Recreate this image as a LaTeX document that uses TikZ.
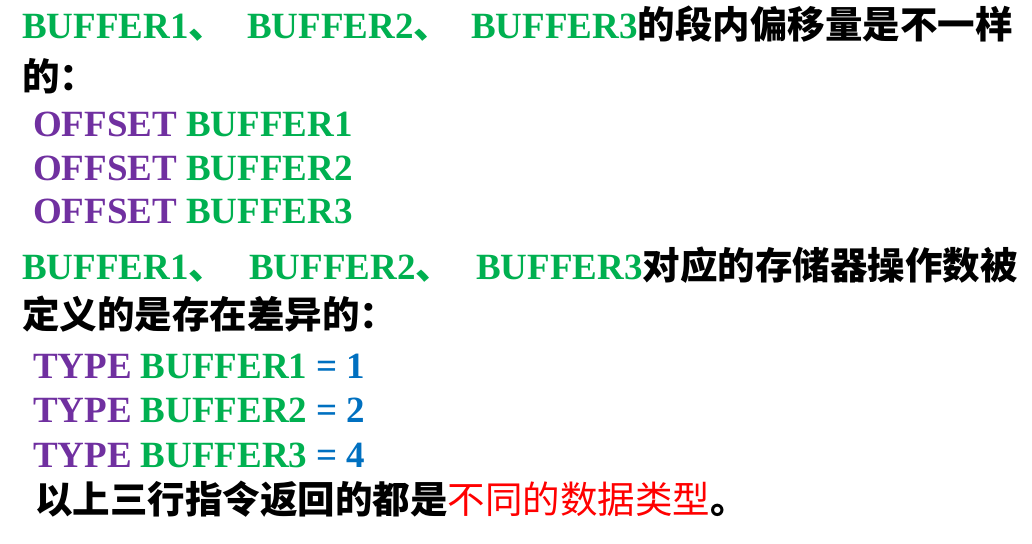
\documentclass[tikz,border=0pt]{standalone}
\usepackage{fontspec}
\setmainfont{Liberation Serif}
\newfontfamily\cjk{Noto Sans CJK SC}
\definecolor{cgreen}{HTML}{00B050}
\definecolor{cpurple}{HTML}{7030A0}
\definecolor{cblue}{HTML}{0070C0}
\definecolor{cred}{HTML}{FF0000}
\newcommand{\lat}{\fontsize{37}{40}\selectfont\bfseries}
\newcommand{\zh}{\fontsize{37.5}{40}\selectfont\cjk\bfseries}
\newcommand{\zhr}{\fontsize{37.5}{40}\selectfont\cjk\mdseries}
\begin{document}
\begin{tikzpicture}[x=1pt,y=-1pt,
  txt/.style={anchor=base west,inner sep=0pt,outer sep=0pt}]
\useasboundingbox (0,0) rectangle (1032,543);
% line 1
\node[txt] (l1a) at (22,39) {\lat\color{cgreen}BUFFER1{\zh 、}};
\node[txt] (l1b) at (247,39) {\lat\color{cgreen}BUFFER2{\zh 、}};
\node[txt] (l1c) at (471,39) {\lat{\color{cgreen}BUFFER3}{\zh 的段内偏移量是不一样}};
% line 2
\node[txt] (l2) at (22,90) {\zh 的：};
% offset lines
\node[txt] (o1) at (33,136) {\lat{\color{cpurple}OFFSET} {\color{cgreen}BUFFER1}};
\node[txt] (o2) at (33,180) {\lat{\color{cpurple}OFFSET} {\color{cgreen}BUFFER2}};
\node[txt] (o3) at (33,223) {\lat{\color{cpurple}OFFSET} {\color{cgreen}BUFFER3}};
% line 4
\node[txt] (l4a) at (22,279) {\lat\color{cgreen}BUFFER1{\zh 、}};
\node[txt] (l4b) at (249,279) {\lat\color{cgreen}BUFFER2{\zh 、}};
\node[txt] (l4c) at (476,279) {\lat{\color{cgreen}BUFFER3}{\zh 对应的存储器操作数被}};
% line 5
\node[txt] (l5) at (22,328) {\zh 定义的是存在差异的：};
% type lines
\node[txt] (t1) at (33,378) {\lat{\color{cpurple}TYPE} {\color{cgreen}BUFFER1} {\color{cblue}= 1}};
\node[txt] (t2) at (33,422) {\lat{\color{cpurple}TYPE} {\color{cgreen}BUFFER2} {\color{cblue}= 2}};
\node[txt] (t3) at (33,467) {\lat{\color{cpurple}TYPE} {\color{cgreen}BUFFER3} {\color{cblue}= 4}};
% last line
\node[txt] (l6) at (35,513) {\zh 以上三行指令返回的都是{\zhr\color{cred}不同的数据类型}。};
\end{tikzpicture}
\end{document}
